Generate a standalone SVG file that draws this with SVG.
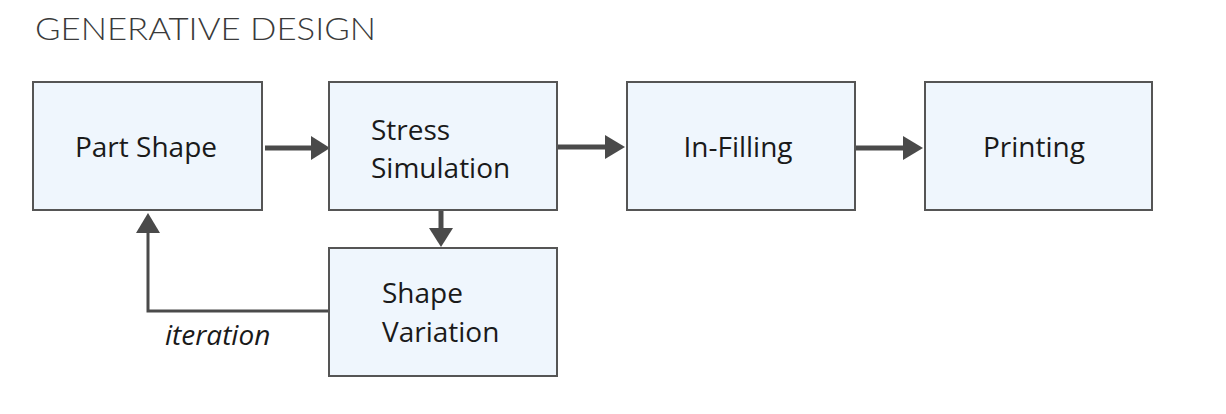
<svg xmlns="http://www.w3.org/2000/svg" width="1226" height="414" viewBox="0 0 1226 414">
<defs>
<style>
.box{fill:#eff6fd;stroke:#555;stroke-width:2}
.lbl{font-family:"Open Sans","Liberation Sans",sans-serif;font-size:28px;fill:#1a1a1a}
.title{font-family:"Lato","Liberation Sans",sans-serif;font-weight:300;font-size:32px;fill:#3a3a3a}
.conn{stroke:#4a4a4a;stroke-width:5;fill:none}
.thin{stroke:#4a4a4a;stroke-width:3;fill:none}
.head{fill:#4a4a4a}
</style>
</defs>
<rect width="1226" height="414" fill="#fff"/>
<text class="title" x="35" y="40" textLength="341" lengthAdjust="spacingAndGlyphs">GENERATIVE DESIGN</text>
<g id="connectors">
<line class="conn" x1="265" y1="148" x2="314" y2="148"/>
<polygon class="head" points="311,136 330,148 311,160"/>
<line class="conn" x1="557" y1="147" x2="608" y2="147"/>
<polygon class="head" points="605,135 625,147 605,159"/>
<line class="conn" x1="855" y1="148" x2="906" y2="148"/>
<polygon class="head" points="903,136 923,148 903,160"/>
<line class="conn" x1="441" y1="211" x2="441" y2="230"/>
<polygon class="head" points="429,228 441,247 453,228"/>
<polyline class="thin" points="329,311 148,311 148,230"/>
<polygon class="head" points="136,233 148,213 160,233"/>
</g>
<g id="part-shape">
<rect class="box" x="33" y="82" width="229" height="128"/>
<text class="lbl" x="146" y="157" text-anchor="middle">Part Shape</text>
</g>
<g id="stress-simulation">
<rect class="box" x="329" y="82" width="228" height="128"/>
<text class="lbl" x="371" y="140">Stress</text>
<text class="lbl" x="371" y="178">Simulation</text>
</g>
<g id="shape-variation">
<rect class="box" x="329" y="248" width="228" height="128"/>
<text class="lbl" x="382" y="303">Shape</text>
<text class="lbl" x="382" y="342">Variation</text>
</g>
<g id="in-filling">
<rect class="box" x="627" y="82" width="228" height="128"/>
<text class="lbl" x="738" y="157" text-anchor="middle">In-Filling</text>
</g>
<g id="printing">
<rect class="box" x="925" y="82" width="227" height="128"/>
<text class="lbl" x="1034" y="157" text-anchor="middle">Printing</text>
</g>
<text id="iteration-label" class="lbl" x="165" y="345" font-style="italic">iteration</text>
</svg>
